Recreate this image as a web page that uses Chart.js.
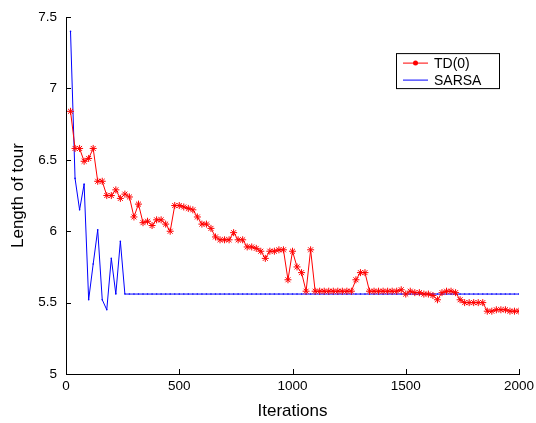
<!DOCTYPE html>
<html>
<head>
<meta charset="utf-8">
<script src="https://cdn.jsdelivr.net/npm/chart.js@4"></script>
<style>
  body { margin: 0; background: #fff; }
</style>
</head>
<body>
<canvas id="tourChart" width="536" height="423"></canvas>
<script>
// iterations sampled every 20 steps
var iterations = [
  20, 40, 60, 80, 100, 120, 140, 160, 180, 200,
  220, 240, 260, 280, 300, 320, 340, 360, 380, 400,
  420, 440, 460, 480, 500, 520, 540, 560, 580, 600,
  620, 640, 660, 680, 700, 720, 740, 760, 780, 800,
  820, 840, 860, 880, 900, 920, 940, 960, 980, 1000,
  1020, 1040, 1060, 1080, 1100, 1120, 1140, 1160, 1180, 1200,
  1220, 1240, 1260, 1280, 1300, 1320, 1340, 1360, 1380, 1400,
  1420, 1440, 1460, 1480, 1500, 1520, 1540, 1560, 1580, 1600,
  1620, 1640, 1660, 1680, 1700, 1720, 1740, 1760, 1780, 1800,
  1820, 1840, 1860, 1880, 1900, 1920, 1940, 1960, 1980, 2000
];
var td0 = [
  6.84, 6.58, 6.58, 6.49, 6.51, 6.58, 6.35, 6.35, 6.25, 6.25,
  6.29, 6.23, 6.26, 6.24, 6.10, 6.19, 6.06, 6.07, 6.04, 6.08,
  6.08, 6.05, 6.00, 6.18, 6.18, 6.17, 6.16, 6.15, 6.10, 6.05,
  6.05, 6.02, 5.96, 5.94, 5.94, 5.94, 5.99, 5.94, 5.94, 5.89,
  5.89, 5.88, 5.86, 5.81, 5.86, 5.86, 5.87, 5.87, 5.66, 5.86,
  5.75, 5.71, 5.58, 5.87, 5.58, 5.58, 5.58, 5.58, 5.58, 5.58,
  5.58, 5.58, 5.58, 5.66, 5.71, 5.71, 5.58, 5.58, 5.58, 5.58,
  5.58, 5.58, 5.58, 5.59, 5.56, 5.58, 5.57, 5.57, 5.56, 5.56,
  5.55, 5.52, 5.57, 5.58, 5.58, 5.57, 5.52, 5.50, 5.50, 5.50,
  5.50, 5.50, 5.44, 5.44, 5.45, 5.45, 5.45, 5.44, 5.44, 5.44
];
var sarsa = [
  7.40, 6.37, 6.15, 6.33, 5.52, 5.77, 6.01, 5.52, 5.45, 5.81,
  5.56, 5.93, 5.56, 5.56, 5.56, 5.56, 5.56, 5.56, 5.56, 5.56,
  5.56, 5.56, 5.56, 5.56, 5.56, 5.56, 5.56, 5.56, 5.56, 5.56,
  5.56, 5.56, 5.56, 5.56, 5.56, 5.56, 5.56, 5.56, 5.56, 5.56,
  5.56, 5.56, 5.56, 5.56, 5.56, 5.56, 5.56, 5.56, 5.56, 5.56,
  5.56, 5.56, 5.56, 5.56, 5.56, 5.56, 5.56, 5.56, 5.56, 5.56,
  5.56, 5.56, 5.56, 5.56, 5.56, 5.56, 5.56, 5.56, 5.56, 5.56,
  5.56, 5.56, 5.56, 5.56, 5.56, 5.56, 5.56, 5.56, 5.56, 5.56,
  5.56, 5.56, 5.56, 5.56, 5.56, 5.56, 5.56, 5.56, 5.56, 5.56,
  5.56, 5.56, 5.56, 5.56, 5.56, 5.56, 5.56, 5.56, 5.56, 5.56
];
var xTicks = [0, 500, 1000, 1500, 2000];
var yTicks = [5, 5.5, 6, 6.5, 7, 7.5];
var seriesNames = ['TD(0)', 'SARSA'];

function toPoints(vals) {
  return vals.map(function (v, i) { return { x: iterations[i], y: v }; });
}

// small inward tick marks on left and bottom axes, matlab style
var innerTicks = {
  id: 'innerTicks',
  afterDraw: function (chart) {
    var c = chart.ctx, xs = chart.scales.x, ys = chart.scales.y;
    var a = chart.chartArea;
    c.save();
    c.strokeStyle = '#000';
    c.lineWidth = 1;
    c.beginPath();
    xTicks.forEach(function (v) {
      var px = Math.round(xs.getPixelForValue(v)) + 0.5;
      c.moveTo(px, a.bottom);
      c.lineTo(px, a.bottom - 5);
    });
    yTicks.forEach(function (v) {
      var py = Math.round(ys.getPixelForValue(v)) + 0.5;
      c.moveTo(a.left, py);
      c.lineTo(a.left + 5, py);
    });
    c.stroke();
    c.restore();
  }
};

// boxed legend in the upper right of the plot
var boxLegend = {
  id: 'boxLegend',
  afterDraw: function (chart) {
    var c = chart.ctx, a = chart.chartArea;
    var bx = a.left + 330, by = a.top + 36, bw = 103, bh = 35;
    c.save();
    c.fillStyle = '#fff';
    c.fillRect(bx, by, bw, bh);
    c.strokeStyle = '#000';
    c.lineWidth = 1;
    c.strokeRect(bx + 0.5, by + 0.5, bw, bh);
    c.font = '14px "Liberation Sans", Arial, sans-serif';
    c.textBaseline = 'middle';
    chart.data.datasets.forEach(function (ds, i) {
      var ly = by + 10 + i * 17;
      c.strokeStyle = ds.borderColor;
      c.beginPath();
      c.moveTo(bx + 7, ly);
      c.lineTo(bx + 32, ly);
      c.stroke();
      if (i === 0) {
        c.fillStyle = ds.borderColor;
        c.beginPath();
        c.arc(bx + 19.5, ly, 2.5, 0, Math.PI * 2);
        c.fill();
      }
      c.fillStyle = '#000';
      c.fillText(ds.label, bx + 38, ly + 1);
    });
    c.restore();
  }
};

var ctx = document.getElementById('tourChart').getContext('2d');
var tourChart = new Chart(ctx, {
  type: 'line',
  data: {
    datasets: [{
      label: seriesNames[0],
      data: toPoints(td0),
      borderColor: '#ff0000',
      backgroundColor: '#ff0000',
      borderWidth: 1,
      pointStyle: 'star',
      pointRadius: 3.5,
      pointBorderWidth: 1,
      tension: 0
    }, {
      label: seriesNames[1],
      data: toPoints(sarsa),
      borderColor: '#0000ff',
      backgroundColor: '#0000ff',
      borderWidth: 1,
      pointStyle: 'circle',
      pointRadius: 0.8,
      pointBorderWidth: 0,
      tension: 0
    }]
  },
  options: {
    responsive: false,
    animation: false,
    layout: { padding: { top: 17, right: 17, left: 0, bottom: 0 } },
    plugins: {
      legend: { display: false },
      tooltip: { enabled: false }
    },
    scales: {
      x: {
        type: 'linear',
        min: 0,
        max: 2000,
        afterBuildTicks: function (s) { s.ticks = xTicks.map(function (v) { return { value: v }; }); },
        afterFit: function (s) { s.height = 49; s.paddingLeft = 0; s.paddingRight = 0; },
        grid: { display: false, drawTicks: false },
        border: { display: true, color: '#000', width: 1 },
        ticks: {
          color: '#000',
          padding: 4,
          maxRotation: 0,
          font: { family: '"Liberation Sans", Arial, sans-serif', size: 13.5 },
          callback: function (v) { return String(v); }
        },
        title: {
          display: true,
          text: 'Iterations',
          color: '#000',
          padding: { top: 0, bottom: 1 },
          font: { family: '"Liberation Sans", Arial, sans-serif', size: 17 }
        }
      },
      y: {
        min: 5,
        max: 7.5,
        afterBuildTicks: function (s) { s.ticks = yTicks.map(function (v) { return { value: v }; }); },
        afterFit: function (s) { s.width = 66; },
        grid: { display: false, drawTicks: false },
        border: { display: true, color: '#000', width: 1 },
        ticks: {
          color: '#000',
          padding: 9,
          font: { family: '"Liberation Sans", Arial, sans-serif', size: 13.5 },
          callback: function (v) { return String(v); }
        },
        title: {
          display: true,
          text: 'Length of tour',
          color: '#000',
          padding: { top: 8, bottom: 0 },
          font: { family: '"Liberation Sans", Arial, sans-serif', size: 17 }
        }
      }
    }
  },
  plugins: [innerTicks, boxLegend]
});
</script>
</body>
</html>
